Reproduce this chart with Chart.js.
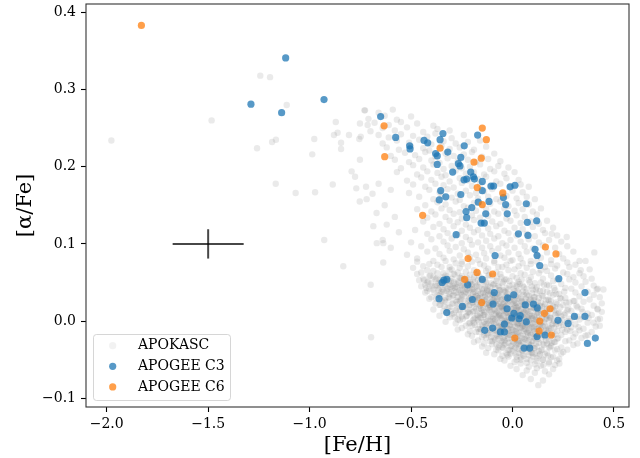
<!DOCTYPE html>
<html>
<head>
<meta charset="utf-8">
<script src="https://cdn.jsdelivr.net/npm/chart.js@4.4.0/dist/chart.umd.min.js"></script>
<style>
  html, body { margin: 0; padding: 0; background: #fff; }
  canvas { display: block; }
</style>
</head>
<body>
<canvas id="chart" width="640" height="458"></canvas>
<script>
const seriesLabels = ["APOKASC", "APOGEE C3", "APOGEE C6"];
const xTicks = [-2.0, -1.5, -1.0, -0.5, 0.0, 0.5];
const yTicks = [-0.1, 0.0, 0.1, 0.2, 0.3, 0.4];
// typical uncertainty: [centre, half width]
const errFeH = [-1.5, 0.175];
const errAlpha = [0.1, 0.019];

// [Fe/H], [alpha/Fe]
const c3Points = [
  [-1.118,0.341],[-1.289,0.281],[-1.138,0.270],[-0.929,0.287],[-0.650,0.265],[-0.576,0.238],[-0.507,0.227],[-0.505,0.223],
  [-0.436,0.234],[-0.418,0.231],[-0.357,0.235],[-0.343,0.243],[-0.379,0.217],[-0.371,0.214],[-0.319,0.219],[-0.371,0.203],
  [-0.238,0.227],[-0.172,0.241],[-0.255,0.212],[-0.267,0.204],[-0.259,0.201],[-0.295,0.193],[-0.206,0.193],[-0.193,0.187],
  [-0.239,0.183],[-0.226,0.184],[-0.188,0.184],[-0.149,0.181],[-0.106,0.175],[-0.093,0.175],[-0.012,0.174],[0.012,0.176],
  [-0.354,0.169],[-0.149,0.169],[-0.255,0.164],[-0.329,0.161],[-0.361,0.157],[-0.045,0.160],[-0.169,0.154],[-0.116,0.155],
  [-0.034,0.151],[0.068,0.152],[-0.201,0.147],[-0.229,0.142],[-0.132,0.139],[-0.026,0.139],[-0.226,0.134],[-0.155,0.127],
  [-0.139,0.127],[0.073,0.128],[0.119,0.130],[-0.278,0.112],[0.029,0.113],[0.076,0.111],[0.111,0.093],[0.121,0.085],
  [-0.086,0.085],[0.134,0.072],[0.228,0.055],[-0.338,0.053],[-0.347,0.050],[-0.324,0.054],[-0.221,0.047],[-0.149,0.054],
  [0.357,0.037],[-0.090,0.037],[0.006,0.034],[-0.024,0.030],[-0.362,0.029],[-0.198,0.028],[-0.247,0.019],[-0.096,0.022],
  [-0.324,0.011],[-0.027,0.016],[0.063,0.021],[0.103,0.022],[0.122,0.017],[0.007,0.010],[0.038,0.007],[-0.004,0.004],
  [0.032,0.003],[0.068,-0.001],[-0.040,-0.004],[0.224,0.001],[0.305,0.006],[0.357,0.006],[0.274,-0.003],[-0.137,-0.012],
  [-0.098,-0.009],[-0.060,-0.014],[-0.040,-0.014],[0.121,-0.020],[0.160,-0.018],[0.408,-0.022],[0.369,-0.029],[0.057,-0.035],
  [0.085,-0.035]
];

const c6Points = [
  [-1.829,0.383],[-0.633,0.253],[-0.630,0.213],[-0.357,0.224],[-0.149,0.250],[-0.129,0.235],[-0.190,0.206],[-0.154,0.211],
  [-0.174,0.173],[-0.048,0.166],[-0.149,0.151],[-0.443,0.137],[0.162,0.096],[0.214,0.087],[-0.219,0.081],[-0.175,0.063],
  [-0.098,0.061],[-0.236,0.054],[-0.152,0.024],[0.185,0.016],[0.157,0.010],[0.134,0.000],[0.131,-0.013],[0.191,-0.018],
  [0.011,-0.022]
];

const apokascPoints = [
  // stragglers
  [-1.243,0.318],[-1.195,0.316],[-1.113,0.280],[-1.483,0.260],[-1.977,0.234],[-1.166,0.235],[-1.185,0.232],[-1.259,0.224],
  [-0.977,0.236],[-0.987,0.216],[-1.167,0.178],[-1.069,0.166],[-0.973,0.167],[-0.928,0.105],[-0.834,0.071],[-0.699,0.047],
  [-0.697,-0.021],[-0.871,0.258],[-0.880,0.241],[-0.862,0.244],[-0.806,0.241],[-0.845,0.231],[-0.845,0.223],[-0.886,0.177],
  [-0.793,0.194],[-0.776,0.187],[-0.770,0.172],[-0.753,0.155],[-0.719,0.158],[-0.722,0.174],[-0.686,0.123],[-0.755,0.236],
  [-0.748,0.239],[-0.752,0.256],[-0.714,0.254],[-0.727,0.273],[-0.752,0.209],[0.127,-0.083],[0.152,-0.057],[0.231,-0.055],
  [0.448,0.041],[0.415,0.041],[0.418,0.016],[0.431,0.003],[0.403,0.089],[0.336,0.066],[0.267,0.109],[0.193,0.113],
  [-0.637,0.076],[-0.669,0.101],[-0.637,0.101],[-0.69,0.165],[-0.66,0.178],[-0.63,0.150],[-0.67,0.140],[-0.60,0.170],
  [-0.62,0.125],[-0.58,0.135],[-0.64,0.105],[-0.60,0.095],[-0.56,0.115],
  // high-alpha sequence
  [-0.73,0.273],[-0.66,0.270],[-0.59,0.274],
  [-0.71,0.262],[-0.63,0.266],[-0.57,0.261],[-0.50,0.265],
  [-0.68,0.257],[-0.61,0.254],[-0.55,0.258],[-0.47,0.256],[-0.39,0.253],
  [-0.70,0.246],[-0.64,0.250],[-0.58,0.247],[-0.52,0.251],[-0.44,0.245],[-0.37,0.249],[-0.31,0.247],
  [-0.66,0.241],[-0.61,0.238],[-0.55,0.242],[-0.49,0.240],[-0.42,0.239],[-0.38,0.243],[-0.30,0.237],[-0.24,0.241],
  [-0.64,0.230],[-0.57,0.234],[-0.51,0.231],[-0.46,0.235],[-0.40,0.229],[-0.34,0.233],[-0.28,0.230],[-0.22,0.232],[-0.16,0.234],
  [-0.62,0.225],[-0.56,0.222],[-0.50,0.226],[-0.44,0.224],[-0.41,0.221],[-0.35,0.227],[-0.31,0.223],[-0.26,0.225],[-0.19,0.222],[-0.13,0.226],
  [-0.60,0.214],[-0.53,0.218],[-0.48,0.215],[-0.43,0.219],[-0.38,0.213],[-0.33,0.217],[-0.29,0.214],[-0.24,0.216],[-0.20,0.219],[-0.15,0.213],[-0.09,0.217],
  [-0.58,0.209],[-0.51,0.206],[-0.46,0.210],[-0.40,0.208],[-0.36,0.205],[-0.32,0.211],[-0.27,0.207],[-0.22,0.209],[-0.18,0.206],[-0.12,0.210],[-0.06,0.207],
  [-0.55,0.198],[-0.49,0.202],[-0.44,0.199],[-0.39,0.203],[-0.34,0.197],[-0.30,0.201],[-0.25,0.198],[-0.21,0.200],[-0.16,0.203],[-0.11,0.197],[-0.07,0.201],[-0.02,0.199],
  [-0.57,0.193],[-0.47,0.190],[-0.42,0.194],[-0.37,0.192],[-0.33,0.189],[-0.28,0.195],[-0.23,0.191],[-0.19,0.193],[-0.14,0.190],[-0.09,0.194],[-0.04,0.191],[0.01,0.193],
  [-0.52,0.182],[-0.45,0.186],[-0.40,0.183],[-0.35,0.187],[-0.31,0.181],[-0.26,0.185],[-0.22,0.182],[-0.17,0.184],[-0.13,0.187],[-0.08,0.181],[-0.03,0.185],[0.03,0.183],
  [-0.49,0.177],[-0.43,0.174],[-0.38,0.178],[-0.34,0.176],[-0.29,0.173],[-0.25,0.179],[-0.20,0.175],[-0.16,0.177],[-0.11,0.174],[-0.06,0.178],[-0.01,0.175],[0.04,0.177],[0.08,0.174],
  [-0.51,0.166],[-0.41,0.170],[-0.36,0.167],[-0.32,0.171],[-0.27,0.165],[-0.23,0.169],[-0.18,0.166],[-0.14,0.168],[-0.10,0.171],[-0.05,0.165],[0.00,0.169],[0.05,0.167],
  [-0.46,0.161],[-0.39,0.158],[-0.35,0.162],[-0.30,0.160],[-0.26,0.157],[-0.21,0.163],[-0.17,0.159],[-0.12,0.161],[-0.08,0.158],[-0.03,0.162],[0.02,0.159],[0.07,0.161],[0.11,0.158],
  [-0.43,0.150],[-0.37,0.154],[-0.33,0.151],[-0.28,0.155],[-0.24,0.149],[-0.19,0.153],[-0.15,0.150],[-0.11,0.152],[-0.06,0.155],[-0.02,0.149],[0.03,0.153],[0.08,0.151],
  [-0.47,0.145],[-0.40,0.142],[-0.35,0.146],[-0.31,0.144],[-0.26,0.141],[-0.22,0.147],[-0.18,0.143],[-0.13,0.145],[-0.09,0.142],[-0.04,0.146],[0.01,0.143],[0.05,0.145],[0.10,0.142],[0.14,0.146],
  [-0.42,0.134],[-0.38,0.138],[-0.33,0.135],[-0.29,0.139],[-0.25,0.133],[-0.20,0.137],[-0.16,0.134],[-0.12,0.136],[-0.07,0.139],[-0.03,0.133],[0.02,0.137],[0.06,0.135],[0.12,0.138],
  [-0.44,0.129],[-0.36,0.126],[-0.31,0.130],[-0.27,0.128],[-0.23,0.125],[-0.19,0.131],[-0.14,0.127],[-0.10,0.129],[-0.06,0.126],[-0.01,0.130],[0.04,0.127],[0.09,0.129],[0.13,0.126],[0.17,0.130],
  [-0.48,0.118],[-0.39,0.122],[-0.34,0.119],[-0.29,0.123],[-0.25,0.117],[-0.21,0.121],[-0.17,0.118],[-0.12,0.120],[-0.08,0.123],[-0.04,0.117],[0.01,0.121],[0.05,0.119],[0.10,0.122],[0.15,0.118],[0.20,0.121],
  [-0.42,0.113],[-0.36,0.110],[-0.32,0.114],[-0.27,0.112],[-0.23,0.109],[-0.19,0.115],[-0.15,0.111],[-0.11,0.113],[-0.07,0.110],[-0.02,0.114],[0.02,0.111],[0.07,0.113],[0.11,0.110],[0.16,0.114],[0.22,0.111],
  [-0.50,0.102],[-0.40,0.106],[-0.34,0.103],[-0.30,0.107],[-0.25,0.101],[-0.21,0.105],[-0.17,0.102],[-0.13,0.104],[-0.09,0.107],[-0.05,0.101],[-0.01,0.105],[0.04,0.103],[0.08,0.106],[0.13,0.102],[0.18,0.105],[0.24,0.103],
  [-0.45,0.097],[-0.38,0.094],[-0.32,0.098],[-0.28,0.096],[-0.24,0.093],[-0.20,0.099],[-0.15,0.095],[-0.11,0.097],[-0.07,0.094],[-0.03,0.098],[0.01,0.095],[0.06,0.097],[0.10,0.094],[0.15,0.098],[0.21,0.095],[0.27,0.097],
  [-0.52,0.086],[-0.42,0.090],[-0.36,0.087],[-0.31,0.091],[-0.26,0.085],[-0.22,0.089],[-0.18,0.086],[-0.14,0.088],[-0.10,0.091],[-0.06,0.085],[-0.02,0.089],[0.03,0.087],[0.07,0.090],[0.12,0.086],[0.17,0.089],[0.23,0.087],[0.30,0.090],
  [-0.47,0.081],[-0.39,0.078],[-0.34,0.082],[-0.29,0.080],[-0.25,0.077],[-0.21,0.083],[-0.17,0.079],[-0.13,0.081],[-0.09,0.078],[-0.04,0.082],[0.00,0.079],[0.04,0.081],[0.09,0.078],[0.14,0.082],[0.19,0.079],[0.25,0.081],[0.33,0.078],
  // low-alpha clump
  [-0.47,0.077],[-0.41,0.074],[-0.33,0.078],[-0.28,0.075],[-0.20,0.077],[-0.16,0.074],[-0.09,0.076],[-0.01,0.078],[0.05,0.075],[0.12,0.077],[0.19,0.074],[0.27,0.076],[0.36,0.078],
  [-0.44,0.071],[-0.37,0.073],[-0.31,0.070],[-0.25,0.074],[-0.22,0.071],[-0.14,0.072],[-0.07,0.070],[-0.03,0.073],[0.03,0.071],[0.09,0.074],[0.16,0.070],[0.22,0.072],[0.31,0.073],
  [-0.49,0.069],[-0.42,0.066],[-0.35,0.070],[-0.30,0.067],[-0.26,0.069],[-0.19,0.066],[-0.12,0.068],[-0.05,0.070],[0.01,0.067],[0.07,0.069],[0.14,0.066],[0.21,0.068],[0.28,0.070],[0.38,0.067],
  [-0.45,0.063],[-0.39,0.065],[-0.34,0.062],[-0.31,0.066],[-0.27,0.063],[-0.23,0.064],[-0.17,0.062],[-0.13,0.065],[-0.08,0.063],[-0.02,0.066],[0.04,0.062],[0.10,0.064],[0.17,0.065],[0.25,0.063],[0.33,0.062],
  [-0.47,0.061],[-0.41,0.058],[-0.37,0.062],[-0.33,0.059],[-0.29,0.061],[-0.25,0.058],[-0.21,0.060],[-0.18,0.062],[-0.12,0.059],[-0.06,0.061],[0.00,0.058],[0.06,0.060],[0.13,0.062],[0.19,0.059],[0.27,0.061],[0.35,0.058],
  [-0.44,0.055],[-0.39,0.057],[-0.36,0.054],[-0.32,0.058],[-0.30,0.055],[-0.26,0.056],[-0.23,0.054],[-0.19,0.057],[-0.15,0.055],[-0.10,0.058],[-0.04,0.054],[0.02,0.056],[0.09,0.057],[0.15,0.055],[0.22,0.054],[0.30,0.057],[0.39,0.055],
  [-0.46,0.053],[-0.42,0.050],[-0.38,0.054],[-0.35,0.051],[-0.33,0.053],[-0.29,0.050],[-0.27,0.052],[-0.24,0.054],[-0.21,0.051],[-0.17,0.053],[-0.13,0.050],[-0.08,0.052],[-0.03,0.054],[0.03,0.051],[0.08,0.053],[0.14,0.050],[0.20,0.052],[0.28,0.054],[0.36,0.051],
  [-0.43,0.047],[-0.40,0.049],[-0.37,0.046],[-0.34,0.050],[-0.31,0.047],[-0.28,0.048],[-0.25,0.046],[-0.22,0.049],[-0.20,0.047],[-0.16,0.050],[-0.12,0.046],[-0.09,0.048],[-0.05,0.049],[0.00,0.047],[0.05,0.046],[0.11,0.049],[0.17,0.047],[0.24,0.048],[0.31,0.050],[0.40,0.046],
  [-0.45,0.045],[-0.41,0.042],[-0.38,0.046],[-0.36,0.043],[-0.33,0.045],[-0.30,0.042],[-0.27,0.044],[-0.24,0.046],[-0.21,0.043],[-0.18,0.045],[-0.15,0.042],[-0.11,0.044],[-0.07,0.046],[-0.03,0.043],[0.02,0.045],[0.07,0.042],[0.12,0.044],[0.18,0.046],[0.26,0.043],[0.34,0.045],[0.42,0.042],
  [-0.42,0.039],[-0.39,0.041],[-0.35,0.038],[-0.32,0.042],[-0.29,0.039],[-0.26,0.040],[-0.23,0.038],[-0.20,0.041],[-0.17,0.039],[-0.14,0.042],[-0.10,0.038],[-0.06,0.040],[-0.02,0.041],[0.01,0.039],[0.05,0.038],[0.10,0.041],[0.15,0.039],[0.21,0.040],[0.29,0.042],[0.37,0.038],
  [-0.43,0.037],[-0.37,0.034],[-0.34,0.038],[-0.31,0.035],[-0.28,0.037],[-0.25,0.034],[-0.22,0.036],[-0.19,0.038],[-0.16,0.035],[-0.13,0.037],[-0.10,0.034],[-0.07,0.036],[-0.04,0.038],[0.00,0.035],[0.03,0.037],[0.07,0.034],[0.12,0.036],[0.17,0.038],[0.23,0.035],[0.31,0.037],[0.40,0.034],
  [-0.40,0.031],[-0.36,0.033],[-0.33,0.030],[-0.29,0.034],[-0.27,0.031],[-0.24,0.032],[-0.21,0.030],[-0.18,0.033],[-0.15,0.031],[-0.12,0.034],[-0.09,0.030],[-0.06,0.032],[-0.03,0.033],[0.00,0.031],[0.04,0.030],[0.08,0.033],[0.11,0.031],[0.15,0.032],[0.20,0.034],[0.26,0.030],[0.33,0.032],[0.43,0.031],
  [-0.41,0.029],[-0.35,0.026],[-0.31,0.030],[-0.28,0.027],[-0.25,0.029],[-0.22,0.026],[-0.19,0.028],[-0.17,0.030],[-0.14,0.027],[-0.11,0.029],[-0.08,0.026],[-0.05,0.028],[-0.02,0.030],[0.01,0.027],[0.03,0.029],[0.06,0.026],[0.09,0.028],[0.13,0.030],[0.18,0.027],[0.24,0.029],[0.30,0.026],[0.38,0.028],
  [-0.38,0.023],[-0.33,0.025],[-0.30,0.022],[-0.26,0.026],[-0.23,0.023],[-0.20,0.024],[-0.18,0.022],[-0.15,0.025],[-0.12,0.023],[-0.10,0.026],[-0.07,0.022],[-0.04,0.024],[-0.01,0.025],[0.02,0.023],[0.05,0.022],[0.08,0.025],[0.11,0.023],[0.14,0.024],[0.19,0.026],[0.22,0.022],[0.28,0.024],[0.35,0.025],[0.44,0.023],
  [-0.36,0.021],[-0.31,0.018],[-0.27,0.022],[-0.24,0.019],[-0.21,0.021],[-0.19,0.018],[-0.16,0.020],[-0.13,0.022],[-0.11,0.019],[-0.08,0.021],[-0.05,0.018],[-0.03,0.020],[0.00,0.022],[0.03,0.019],[0.06,0.021],[0.09,0.018],[0.12,0.020],[0.16,0.022],[0.20,0.019],[0.25,0.021],[0.32,0.018],[0.40,0.020],
  [-0.39,0.015],[-0.32,0.017],[-0.28,0.014],[-0.25,0.018],[-0.22,0.015],[-0.18,0.016],[-0.15,0.014],[-0.12,0.017],[-0.09,0.015],[-0.06,0.018],[-0.04,0.014],[-0.01,0.016],[0.02,0.017],[0.04,0.015],[0.07,0.014],[0.10,0.017],[0.13,0.015],[0.17,0.016],[0.21,0.018],[0.27,0.014],[0.34,0.016],[0.42,0.015],
  [-0.34,0.013],[-0.29,0.010],[-0.26,0.014],[-0.22,0.011],[-0.19,0.013],[-0.16,0.010],[-0.14,0.012],[-0.11,0.014],[-0.08,0.011],[-0.05,0.013],[-0.02,0.010],[0.01,0.012],[0.03,0.014],[0.06,0.011],[0.09,0.013],[0.12,0.010],[0.15,0.012],[0.18,0.014],[0.23,0.011],[0.29,0.013],[0.37,0.010],[0.44,0.012],
  [-0.36,0.007],[-0.30,0.009],[-0.25,0.006],[-0.21,0.010],[-0.17,0.007],[-0.14,0.008],[-0.12,0.006],[-0.09,0.009],[-0.06,0.007],[-0.03,0.010],[0.00,0.006],[0.02,0.008],[0.05,0.009],[0.08,0.007],[0.11,0.006],[0.14,0.009],[0.17,0.007],[0.21,0.008],[0.26,0.010],[0.32,0.006],[0.39,0.008],
  [-0.31,0.005],[-0.27,0.002],[-0.23,0.006],[-0.19,0.003],[-0.16,0.005],[-0.13,0.002],[-0.10,0.004],[-0.07,0.006],[-0.04,0.003],[-0.02,0.005],[0.01,0.002],[0.04,0.004],[0.07,0.006],[0.10,0.003],[0.13,0.005],[0.16,0.002],[0.19,0.004],[0.24,0.006],[0.28,0.003],[0.35,0.005],[0.42,0.002],
  [-0.33,-0.001],[-0.26,0.001],[-0.21,-0.002],[-0.17,0.002],[-0.14,-0.001],[-0.11,0.000],[-0.08,-0.002],[-0.05,0.001],[-0.03,-0.001],[0.00,0.002],[0.03,-0.002],[0.06,0.000],[0.08,0.001],[0.11,-0.001],[0.14,-0.002],[0.18,0.001],[0.22,-0.001],[0.27,0.000],[0.33,0.002],[0.40,-0.002],
  [-0.28,-0.003],[-0.23,-0.006],[-0.19,-0.002],[-0.15,-0.005],[-0.12,-0.003],[-0.09,-0.004],[-0.06,-0.006],[-0.04,-0.003],[-0.01,-0.005],[0.02,-0.002],[0.05,-0.006],[0.07,-0.004],[0.10,-0.003],[0.13,-0.005],[0.16,-0.006],[0.20,-0.003],[0.25,-0.005],[0.31,-0.004],[0.37,-0.002],[0.43,-0.006],
  [-0.25,-0.009],[-0.20,-0.006],[-0.16,-0.010],[-0.13,-0.007],[-0.10,-0.009],[-0.07,-0.006],[-0.05,-0.008],[-0.02,-0.010],[0.01,-0.007],[0.04,-0.009],[0.06,-0.006],[0.09,-0.008],[0.12,-0.010],[0.15,-0.007],[0.19,-0.009],[0.23,-0.006],[0.29,-0.008],[0.35,-0.010],[0.41,-0.007],
  [-0.27,-0.011],[-0.21,-0.013],[-0.17,-0.010],[-0.14,-0.014],[-0.11,-0.011],[-0.08,-0.012],[-0.05,-0.010],[-0.02,-0.013],[0.00,-0.011],[0.03,-0.014],[0.06,-0.010],[0.08,-0.012],[0.11,-0.013],[0.14,-0.011],[0.18,-0.010],[0.22,-0.013],[0.27,-0.011],[0.33,-0.012],[0.39,-0.014],
  [-0.22,-0.017],[-0.18,-0.014],[-0.14,-0.018],[-0.11,-0.015],[-0.08,-0.017],[-0.06,-0.014],[-0.03,-0.016],[0.00,-0.018],[0.02,-0.015],[0.05,-0.017],[0.07,-0.014],[0.10,-0.016],[0.13,-0.018],[0.17,-0.015],[0.21,-0.017],[0.26,-0.014],[0.31,-0.016],[0.37,-0.018],
  [-0.20,-0.019],[-0.15,-0.021],[-0.12,-0.018],[-0.09,-0.022],[-0.06,-0.019],[-0.04,-0.020],[-0.01,-0.018],[0.02,-0.021],[0.04,-0.019],[0.07,-0.022],[0.09,-0.018],[0.12,-0.020],[0.16,-0.021],[0.20,-0.019],[0.24,-0.018],[0.30,-0.021],[0.36,-0.019],
  [-0.17,-0.025],[-0.13,-0.022],[-0.10,-0.026],[-0.07,-0.023],[-0.04,-0.025],[-0.02,-0.022],[0.01,-0.024],[0.03,-0.026],[0.06,-0.023],[0.08,-0.025],[0.11,-0.022],[0.14,-0.024],[0.18,-0.026],[0.22,-0.023],[0.28,-0.025],[0.34,-0.022],
  [-0.19,-0.027],[-0.14,-0.029],[-0.11,-0.026],[-0.08,-0.030],[-0.05,-0.027],[-0.02,-0.028],[0.00,-0.026],[0.03,-0.029],[0.05,-0.027],[0.08,-0.030],[0.10,-0.026],[0.13,-0.028],[0.17,-0.029],[0.21,-0.027],[0.26,-0.026],[0.32,-0.029],
  [-0.15,-0.033],[-0.10,-0.030],[-0.07,-0.034],[-0.04,-0.031],[-0.01,-0.033],[0.02,-0.030],[0.04,-0.032],[0.07,-0.034],[0.09,-0.031],[0.12,-0.033],[0.15,-0.030],[0.19,-0.032],[0.24,-0.034],[0.30,-0.031],
  [-0.12,-0.035],[-0.08,-0.037],[-0.05,-0.034],[-0.02,-0.038],[0.01,-0.035],[0.03,-0.036],[0.06,-0.034],[0.09,-0.037],[0.11,-0.035],[0.14,-0.038],[0.18,-0.034],[0.22,-0.036],[0.27,-0.037],
  [-0.13,-0.041],[-0.07,-0.038],[-0.03,-0.042],[0.00,-0.039],[0.03,-0.041],[0.05,-0.038],[0.08,-0.040],[0.11,-0.042],[0.13,-0.039],[0.17,-0.041],[0.21,-0.038],[0.25,-0.040],
  [-0.09,-0.043],[-0.05,-0.045],[-0.01,-0.042],[0.02,-0.046],[0.05,-0.043],[0.08,-0.044],[0.10,-0.042],[0.13,-0.045],[0.16,-0.043],[0.20,-0.046],[0.24,-0.042],
  [-0.06,-0.049],[-0.02,-0.046],[0.02,-0.050],[0.04,-0.047],[0.07,-0.049],[0.10,-0.046],[0.12,-0.048],[0.15,-0.050],[0.19,-0.047],[0.23,-0.049],
  [-0.04,-0.051],[0.01,-0.053],[0.04,-0.050],[0.07,-0.054],[0.09,-0.051],[0.12,-0.052],[0.15,-0.050],[0.18,-0.053],[0.22,-0.051],
  [-0.01,-0.058],[0.04,-0.055],[0.08,-0.059],[0.11,-0.056],[0.14,-0.058],[0.18,-0.055],[0.21,-0.057],
  [0.02,-0.062],[0.07,-0.064],[0.12,-0.061],[0.16,-0.065],[0.20,-0.062],
  [0.05,-0.070],[0.11,-0.067],[0.18,-0.069],[0.09,-0.075],[0.15,-0.077],
  // densest ridge
  [-0.355,0.049],[-0.325,0.052],[-0.295,0.046],[-0.265,0.050],[-0.235,0.044],[-0.205,0.048],[-0.345,0.041],[-0.315,0.038],
  [-0.285,0.043],[-0.255,0.037],[-0.225,0.041],[-0.195,0.035],[-0.165,0.027],[-0.135,0.031],[-0.105,0.024],[-0.075,0.029],
  [-0.045,0.022],[-0.015,0.027],[0.015,0.020],[0.045,0.025],[-0.145,0.017],[-0.115,0.021],[-0.085,0.013],[-0.055,0.019],
  [-0.025,0.011],[0.005,0.017],[0.035,0.009],[0.065,0.015],[0.095,0.007],[0.125,0.013],[-0.095,0.003],[-0.065,0.008],
  [-0.035,0.000],[-0.005,0.005],[0.025,-0.003],[0.055,0.004],[0.085,-0.004],[0.115,0.002],[0.145,-0.006],[-0.045,-0.011],
  [-0.015,-0.006],[0.015,-0.013],[0.045,-0.008],[0.075,-0.015],[0.105,-0.010],[0.135,-0.016],[-0.185,0.031],[-0.155,0.036],
  [-0.125,0.039],[-0.095,0.034],[-0.065,0.040],[-0.035,0.031],[0.075,0.022],[0.105,0.027],[0.155,0.019],[0.185,0.004],
  [0.175,-0.012],[0.215,0.010],
  [-0.405,0.059],[-0.345,0.057],[-0.285,0.060],[-0.225,0.056],[-0.165,0.058],[-0.115,0.060],[-0.055,0.057],
  [-0.435,0.053],[-0.375,0.055],[-0.315,0.052],[-0.255,0.056],[-0.195,0.054],[-0.135,0.053],[-0.075,0.055],[-0.015,0.052],[0.045,0.054],
  [-0.415,0.051],[-0.365,0.049],[-0.305,0.052],[-0.245,0.048],[-0.185,0.050],[-0.145,0.052],[-0.105,0.049],[-0.045,0.051],[0.025,0.048],[0.085,0.050],
  [-0.395,0.045],[-0.335,0.047],[-0.275,0.044],[-0.215,0.048],[-0.175,0.046],[-0.135,0.045],[-0.095,0.047],[-0.065,0.044],[-0.015,0.046],[0.035,0.048],[0.095,0.045],[0.155,0.047],
  [-0.425,0.043],[-0.365,0.041],[-0.305,0.044],[-0.245,0.040],[-0.195,0.042],[-0.165,0.044],[-0.125,0.041],[-0.085,0.043],[-0.045,0.040],[0.005,0.042],[0.055,0.044],[0.115,0.041],[0.205,0.043],
  [-0.385,0.037],[-0.325,0.039],[-0.265,0.036],[-0.215,0.040],[-0.185,0.038],[-0.145,0.037],[-0.115,0.039],[-0.075,0.036],[-0.035,0.038],[0.025,0.040],[0.065,0.037],[0.135,0.039],[0.185,0.036],[0.255,0.038],
  [-0.355,0.035],[-0.295,0.033],[-0.235,0.036],[-0.175,0.032],[-0.135,0.034],[-0.105,0.036],[-0.065,0.033],[-0.025,0.035],[0.015,0.032],[0.055,0.034],[0.095,0.036],[0.145,0.033],[0.215,0.035],
  [-0.375,0.029],[-0.315,0.031],[-0.255,0.028],[-0.205,0.032],[-0.165,0.030],[-0.125,0.029],[-0.085,0.031],[-0.055,0.028],[-0.015,0.030],[0.025,0.032],[0.065,0.029],[0.105,0.031],[0.175,0.028],[0.235,0.030],
  [-0.335,0.027],[-0.275,0.025],[-0.215,0.028],[-0.175,0.024],[-0.135,0.026],[-0.095,0.028],[-0.065,0.025],[-0.035,0.027],[0.005,0.024],[0.045,0.026],[0.085,0.028],[0.125,0.025],[0.165,0.027],[0.215,0.024],[0.305,0.026],
  [-0.355,0.021],[-0.295,0.023],[-0.245,0.020],[-0.195,0.024],[-0.155,0.022],[-0.115,0.021],[-0.085,0.023],[-0.055,0.020],[-0.025,0.022],[0.015,0.024],[0.055,0.021],[0.095,0.023],[0.135,0.020],[0.185,0.022],[0.265,0.024],
  [-0.335,0.019],[-0.275,0.017],[-0.215,0.020],[-0.165,0.016],[-0.125,0.018],[-0.095,0.020],[-0.065,0.017],[-0.035,0.019],[-0.005,0.016],[0.025,0.018],[0.065,0.020],[0.105,0.017],[0.145,0.019],[0.195,0.016],[0.235,0.018],[0.315,0.020],
  [-0.305,0.013],[-0.245,0.015],[-0.195,0.012],[-0.155,0.016],[-0.115,0.014],[-0.075,0.013],[-0.045,0.015],[-0.015,0.012],[0.015,0.014],[0.045,0.016],[0.075,0.013],[0.115,0.015],[0.165,0.012],[0.205,0.014],[0.275,0.016],
  [-0.325,0.011],[-0.265,0.009],[-0.215,0.012],[-0.175,0.008],[-0.135,0.010],[-0.105,0.012],[-0.065,0.009],[-0.035,0.011],[-0.005,0.008],[0.025,0.010],[0.055,0.012],[0.085,0.009],[0.125,0.011],[0.165,0.008],[0.225,0.010],[0.345,0.012],
  [-0.285,0.005],[-0.225,0.007],[-0.185,0.004],[-0.145,0.008],[-0.105,0.006],[-0.075,0.005],[-0.045,0.007],[-0.015,0.004],[0.015,0.006],[0.045,0.008],[0.075,0.005],[0.105,0.007],[0.145,0.004],[0.185,0.006],[0.255,0.008],[0.305,0.005],
  [-0.245,0.003],[-0.195,0.001],[-0.155,0.004],[-0.125,0.000],[-0.085,0.002],[-0.055,0.004],[-0.025,0.001],[0.005,0.003],[0.035,0.000],[0.065,0.002],[0.095,0.004],[0.125,0.001],[0.165,0.003],[0.205,0.000],[0.245,0.002],[0.375,0.004],
  [-0.215,-0.003],[-0.165,-0.001],[-0.135,-0.004],[-0.095,0.000],[-0.065,-0.002],[-0.035,-0.003],[-0.005,-0.001],[0.025,-0.004],[0.055,-0.002],[0.085,0.000],[0.115,-0.003],[0.155,-0.001],[0.195,-0.004],[0.235,-0.002],[0.285,0.000],
  [-0.185,-0.005],[-0.145,-0.007],[-0.105,-0.004],[-0.075,-0.008],[-0.045,-0.006],[-0.015,-0.005],[0.015,-0.007],[0.045,-0.004],[0.075,-0.006],[0.105,-0.008],[0.135,-0.005],[0.175,-0.007],[0.215,-0.004],[0.265,-0.006],[0.325,-0.008],
  [-0.155,-0.011],[-0.115,-0.009],[-0.085,-0.012],[-0.055,-0.008],[-0.025,-0.010],[0.005,-0.012],[0.035,-0.009],[0.065,-0.011],[0.095,-0.008],[0.125,-0.010],[0.165,-0.012],[0.205,-0.009],[0.245,-0.011],
  [-0.165,-0.014],[-0.125,-0.016],[-0.095,-0.013],[-0.065,-0.017],[-0.035,-0.015],[-0.005,-0.014],[0.025,-0.016],[0.055,-0.013],[0.085,-0.015],[0.115,-0.017],[0.155,-0.014],[0.195,-0.016],[0.285,-0.013],
  [-0.105,-0.021],[-0.075,-0.019],[-0.045,-0.022],[-0.015,-0.018],[0.015,-0.020],[0.045,-0.022],[0.075,-0.019],[0.105,-0.021],[0.145,-0.018],[0.185,-0.020],[0.225,-0.022],
  [-0.085,-0.024],[-0.055,-0.026],[-0.025,-0.023],[0.005,-0.027],[0.035,-0.025],[0.065,-0.024],[0.095,-0.026],[0.125,-0.023],[0.165,-0.025],[0.205,-0.027],
  [-0.065,-0.031],[-0.035,-0.029],[-0.005,-0.032],[0.025,-0.028],[0.055,-0.030],[0.085,-0.032],[0.115,-0.029],[0.155,-0.031],[0.195,-0.028],
  [-0.045,-0.035],[-0.015,-0.037],[0.015,-0.034],[0.045,-0.038],[0.075,-0.036],[0.105,-0.035],[0.145,-0.037],[0.185,-0.034],
  [-0.025,-0.044],[0.015,-0.042],[0.055,-0.045],[0.095,-0.041],[0.135,-0.043],[0.175,-0.045]
];

const toXY = pts => pts.map(p => ({ x: p[0], y: p[1] }));
const fmt = v => (v < -1e-9 ? "\u2212" : "") + Math.abs(v).toFixed(1);
const serif = "'DejaVu Serif', serif";

const colors = ["rgba(128,128,128,0.17)", "rgba(31,119,180,0.75)", "rgba(255,127,14,0.75)"];

const frame = {
  id: "frame",
  afterDatasetsDraw(chart) {
    const { left, top, right, bottom } = chart.chartArea;
    const ctx = chart.ctx;
    ctx.save();
    ctx.strokeStyle = "#333";
    ctx.lineWidth = 1.1;
    ctx.strokeRect(left, top, right - left, bottom - top);
    ctx.restore();
  }
};

const insideLegend = {
  id: "insideLegend",
  afterDraw(chart) {
    const ctx = chart.ctx;
    const { left, bottom } = chart.chartArea;
    const x0 = left + 7.5, y0 = bottom - 72.5, w = 137, h = 66;
    ctx.save();
    ctx.beginPath();
    ctx.roundRect(x0, y0, w, h, 3);
    ctx.fillStyle = "rgba(255,255,255,0.8)";
    ctx.fill();
    ctx.strokeStyle = "rgba(204,204,204,0.8)";
    ctx.lineWidth = 1;
    ctx.stroke();
    ctx.font = "14px " + serif;
    ctx.textBaseline = "middle";
    ctx.textAlign = "left";
    seriesLabels.forEach((label, i) => {
      const y = y0 + 11.2 + i * 20.6;
      ctx.beginPath();
      ctx.arc(x0 + 19.2, y, 3.6, 0, Math.PI * 2);
      ctx.fillStyle = i === 0 ? "rgba(128,128,128,0.1)" : colors[i];
      ctx.fill();
      ctx.fillStyle = "#000";
      ctx.fillText(label, x0 + 44.5, y);
    });
    ctx.restore();
  }
};

const errStyle = { type: "scatter", showLine: true, pointRadius: 0, borderColor: "rgba(0,0,0,0.72)", borderWidth: 2, order: 0 };

new Chart(document.getElementById("chart"), {
  type: "scatter",
  data: {
    datasets: [
      { label: seriesLabels[0], data: toXY(apokascPoints), backgroundColor: colors[0], pointRadius: 3.2, borderWidth: 0, order: 3 },
      { label: seriesLabels[1], data: toXY(c3Points), backgroundColor: colors[1], pointRadius: 3.6, borderWidth: 0, order: 2 },
      { label: seriesLabels[2], data: toXY(c6Points), backgroundColor: colors[2], pointRadius: 3.6, borderWidth: 0, order: 1 },
      Object.assign({ label: "errx", data: [{ x: errFeH[0] - errFeH[1], y: errAlpha[0] }, { x: errFeH[0] + errFeH[1], y: errAlpha[0] }] }, errStyle),
      Object.assign({ label: "erry", data: [{ x: errFeH[0], y: errAlpha[0] - errAlpha[1] }, { x: errFeH[0], y: errAlpha[0] + errAlpha[1] }] }, errStyle)
    ]
  },
  options: {
    responsive: false,
    animation: false,
    events: [],
    layout: { padding: { top: 4, right: 11, left: 0, bottom: 0 } },
    plugins: { legend: { display: false }, tooltip: { enabled: false } },
    scales: {
      x: {
        type: "linear", min: -2.102, max: 0.574,
        afterBuildTicks: s => { s.ticks = xTicks.map(v => ({ value: v })); },
        afterFit: s => { s.height = 51; s.paddingLeft = 0; s.paddingRight = 0; },
        border: { display: false },
        grid: { drawOnChartArea: false, drawTicks: true, tickLength: 5, tickWidth: 1.1, tickColor: "#000" },
        ticks: { color: "#000", font: { size: 14, family: serif }, padding: 4, maxRotation: 0, autoSkip: false, callback: v => fmt(v) },
        title: { display: true, text: "[Fe/H]", color: "#000", font: { size: 21, family: serif }, padding: { top: 0, bottom: 0 } }
      },
      y: {
        type: "linear", min: -0.1113, max: 0.4108,
        afterBuildTicks: s => { s.ticks = yTicks.map(v => ({ value: v })); },
        afterFit: s => { s.width = 86; s.paddingTop = 0; s.paddingBottom = 0; },
        border: { display: false },
        grid: { drawOnChartArea: false, drawTicks: true, tickLength: 5, tickWidth: 1.1, tickColor: "#000" },
        ticks: { color: "#000", font: { size: 14, family: serif }, padding: 5, autoSkip: false, callback: v => fmt(v) },
        title: { display: true, text: "[\u03b1/Fe]", color: "#000", font: { size: 21, family: serif }, padding: { top: 13, bottom: 0 } }
      }
    }
  },
  plugins: [frame, insideLegend]
});
</script>
</body>
</html>
